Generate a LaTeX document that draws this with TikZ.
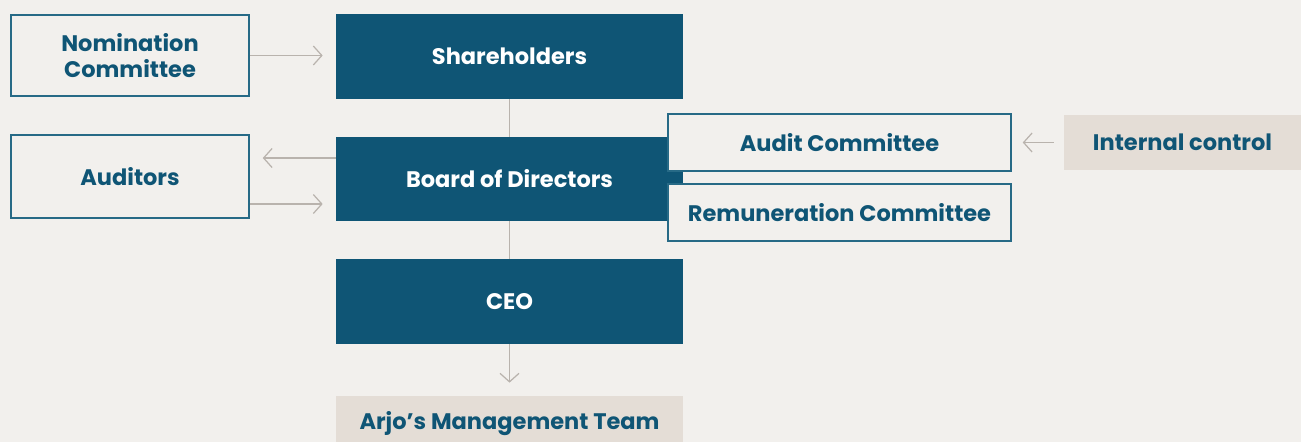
\documentclass[tikz,border=0pt]{standalone}
\usepackage{fontspec}
\setmainfont{Poppins}
\usepackage{tikz}
\usetikzlibrary{positioning}
\usetikzlibrary{arrows.meta}
\definecolor{bgcol}{HTML}{F2F0ED}
\definecolor{tealcol}{HTML}{0F5575}
\definecolor{edgecol}{HTML}{276A86}
\definecolor{sandcol}{HTML}{E4DDD6}
\definecolor{linecol}{HTML}{B9B3AD}
\tikzset{>={Straight Barb[length=1.7mm,width=3.8mm]}}

\begin{document}
\begin{tikzpicture}[
  font=\fontsize{12.8}{14.4}\selectfont\bfseries,
  darkbox/.style={fill=tealcol, text=white, minimum width=6.94cm, minimum height=1.70cm, inner sep=0pt},
  linebox/.style={fill=bgcol, draw=edgecol, line width=0.85pt, text=tealcol, align=center, inner sep=0pt},
  sandbox/.style={fill=sandcol, text=tealcol, inner sep=0pt},
  link/.style={draw=linecol, line width=0.7pt},
  arr/.style={link, ->, shorten >=0.26cm}
]

% ================= Background =================
\fill[bgcol] (0,0) rectangle (26.02,-8.84);
\useasboundingbox (0,0) rectangle (26.02,-8.84);

% ================= Main chain =================
\node[darkbox] (share) at (10.19,-1.13) {Shareholders};
\node[darkbox, minimum height=1.68cm] (board) at (10.19,-3.58) {Board of Directors};
\node[darkbox] (ceo) at (10.19,-6.03) {CEO};
\node[sandbox, minimum width=6.94cm, minimum height=1.10cm] (team) at (10.19,-8.47) {Arjo’s Management Team};

% ================= Left side =================
\node[linebox, minimum width=4.76cm, minimum height=1.62cm] (nom) at (2.60,-1.11) {Nomination\\Committee};
\node[linebox, minimum width=4.76cm, minimum height=1.66cm] (aud) at (2.60,-3.53) {Auditors};

% ================= Right side =================
\node[linebox, minimum width=6.86cm, minimum height=1.14cm] (audc) at (16.79,-2.85) {Audit Committee};
\node[linebox, minimum width=6.86cm, minimum height=1.14cm] (remc) at (16.79,-4.25) {Remuneration Committee};
\node[sandbox, minimum width=4.74cm, minimum height=1.10cm] (intc) at (23.65,-2.85) {Internal control};

% ================= Connectors =================
\draw[arr] (nom.east) -- (share.west |- nom.east);
\draw[link] (share.south) -- (board.north);
\draw[link] (board.south) -- (ceo.north);
\draw[arr] (ceo.south) -- (team.north);

\draw[arr] ([yshift=0.42cm]board.west) -- ([yshift=0.42cm]board.west -| aud.east);
\draw[arr] ([yshift=-0.50cm]board.west -| aud.east) -- ([yshift=-0.50cm]board.west);

\draw[arr, shorten <=0.2cm, shorten >=0.22cm] (intc.west) -- (audc.east);

\end{tikzpicture}
\end{document}
